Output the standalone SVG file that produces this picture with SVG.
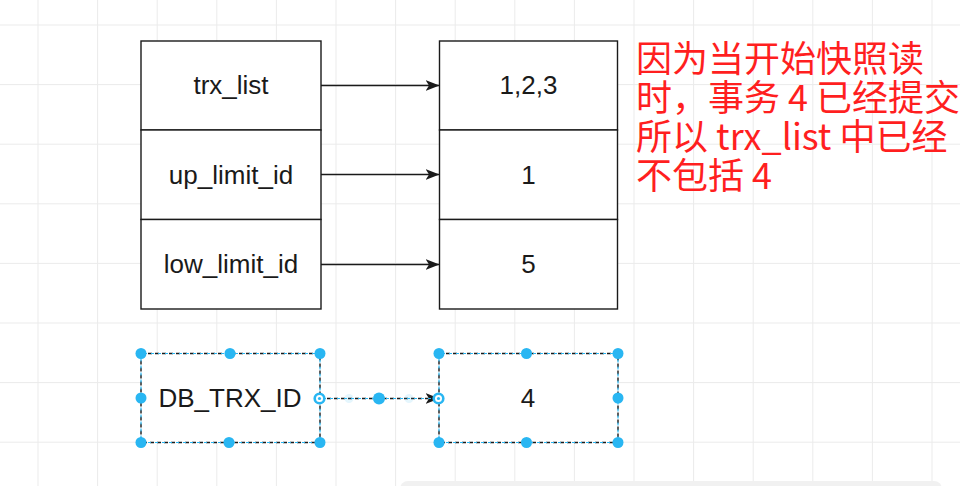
<svg xmlns="http://www.w3.org/2000/svg" width="960" height="486" viewBox="0 0 960 486">
<style>
.grid line{stroke:#ebebeb;stroke-width:1}
.box{fill:#fff;stroke:#1a1a1a;stroke-width:1.4}
.lbl{font-family:"Liberation Sans",Arial,sans-serif;font-size:26px;fill:#1a1a1a;text-anchor:middle}
.edge{stroke:#1a1a1a;stroke-width:1.4;fill:none}
.sel{fill:#fff;stroke:#1a1a1a;stroke-width:1.4;stroke-dasharray:4 3}
.selo{fill:none;stroke:#29b6f2;stroke-width:1.2;stroke-dasharray:3 4;stroke-dashoffset:-3}
.h{fill:#29b6f2}
.ring{fill:#fff;stroke:#29b6f2;stroke-width:2.6}
.note{font-family:"Noto Sans CJK SC","Noto Sans",sans-serif;font-size:36px;fill:#ff1f1f}
</style>
<defs>
<marker id="arr" viewBox="0 0 14 11" refX="13.5" refY="5.5" markerWidth="14" markerHeight="11" markerUnits="userSpaceOnUse" orient="auto">
<path d="M0,0 L14,5.5 L0,11 L3.5,5.5 Z" fill="#1a1a1a"/>
</marker>
</defs>
<rect width="960" height="486" fill="#fff"/>
<g class="grid">
<line x1="38" y1="0" x2="38" y2="486"/><line x1="97.6" y1="0" x2="97.6" y2="486"/><line x1="157.2" y1="0" x2="157.2" y2="486"/><line x1="216.8" y1="0" x2="216.8" y2="486"/><line x1="276.4" y1="0" x2="276.4" y2="486"/><line x1="336" y1="0" x2="336" y2="486"/><line x1="395.6" y1="0" x2="395.6" y2="486"/><line x1="455.2" y1="0" x2="455.2" y2="486"/><line x1="514.8" y1="0" x2="514.8" y2="486"/><line x1="574.4" y1="0" x2="574.4" y2="486"/><line x1="634" y1="0" x2="634" y2="486"/><line x1="693.6" y1="0" x2="693.6" y2="486"/><line x1="753.2" y1="0" x2="753.2" y2="486"/><line x1="812.8" y1="0" x2="812.8" y2="486"/><line x1="872.4" y1="0" x2="872.4" y2="486"/><line x1="932" y1="0" x2="932" y2="486"/>
<line x1="0" y1="25" x2="960" y2="25"/><line x1="0" y1="84.6" x2="960" y2="84.6"/><line x1="0" y1="144.2" x2="960" y2="144.2"/><line x1="0" y1="203.8" x2="960" y2="203.8"/><line x1="0" y1="263.4" x2="960" y2="263.4"/><line x1="0" y1="323" x2="960" y2="323"/><line x1="0" y1="382.6" x2="960" y2="382.6"/><line x1="0" y1="442.2" x2="960" y2="442.2"/>
</g>
<rect x="400" y="481" width="542" height="20" rx="8" fill="#f1f1f1"/>

<g id="n-trx_list"><rect class="box" x="141" y="41" width="180" height="89"/><text class="lbl" x="231" y="94">trx_list</text></g>
<g id="n-up_limit_id"><rect class="box" x="141" y="130" width="180" height="89.5"/><text class="lbl" x="231" y="183.5">up_limit_id</text></g>
<g id="n-low_limit_id"><rect class="box" x="141" y="219.5" width="180" height="89.5"/><text class="lbl" x="231" y="273">low_limit_id</text></g>
<g id="n-v123"><rect class="box" x="439.5" y="41" width="178" height="89"/><text class="lbl" x="528.5" y="94">1,2,3</text></g>
<g id="n-v1"><rect class="box" x="439.5" y="130" width="178" height="89.5"/><text class="lbl" x="528.5" y="183.5">1</text></g>
<g id="n-v5"><rect class="box" x="439.5" y="219.5" width="178" height="89.5"/><text class="lbl" x="528.5" y="273">5</text></g>

<g id="n-db_trx_id"><rect class="sel" x="141" y="353.5" width="179" height="89"/><rect class="selo" x="141" y="353.5" width="179" height="89"/><text class="lbl" x="230" y="407">DB_TRX_ID</text></g>
<g id="n-v4"><rect class="sel" x="439" y="353.5" width="179" height="89"/><rect class="selo" x="439" y="353.5" width="179" height="89"/><text class="lbl" x="528" y="407">4</text></g>

<g id="connectors">
<line class="edge" x1="321" y1="85.5" x2="439" y2="85.5" marker-end="url(#arr)"/>
<line class="edge" x1="321" y1="174.5" x2="439" y2="174.5" marker-end="url(#arr)"/>
<line class="edge" x1="321" y1="264.5" x2="439" y2="264.5" marker-end="url(#arr)"/>
<line class="edge" x1="320" y1="398.5" x2="439" y2="398.5" stroke-dasharray="4 3" marker-end="url(#arr)"/>
<line x1="320" y1="398.5" x2="439" y2="398.5" stroke="#29b6f2" stroke-width="1.2" stroke-dasharray="3 4" stroke-dashoffset="-3"/>
</g>

<g id="selection-handles">
<circle class="h" cx="141" cy="353.5" r="5.5"/><circle class="h" cx="230" cy="353.5" r="5.5"/><circle class="h" cx="320" cy="353.5" r="5.5"/>
<circle class="h" cx="141" cy="398" r="5.5"/>
<circle class="h" cx="141" cy="442.5" r="5.5"/><circle class="h" cx="229" cy="442.5" r="5.5"/><circle class="h" cx="320" cy="442.5" r="5.5"/>
<circle class="h" cx="439" cy="353.5" r="5.5"/><circle class="h" cx="526.5" cy="353.5" r="5.5"/><circle class="h" cx="618" cy="353.5" r="5.5"/>
<circle class="h" cx="618" cy="398" r="5.5"/>
<circle class="h" cx="439" cy="442.5" r="5.5"/><circle class="h" cx="526.5" cy="442.5" r="5.5"/><circle class="h" cx="618" cy="442.5" r="5.5"/>
<circle cx="349" cy="398.5" r="4.5" fill="#29b6f2" opacity="0.12"/><circle cx="409" cy="398.5" r="4.5" fill="#29b6f2" opacity="0.12"/>
<circle class="h" cx="379" cy="398.5" r="6"/>
<circle class="ring" cx="319.5" cy="398.5" r="4.8"/><circle cx="319.5" cy="398.5" r="1.6" fill="#29b6f2"/>
<circle class="ring" cx="438.5" cy="398.5" r="4.8"/><circle cx="438.5" cy="398.5" r="1.6" fill="#29b6f2"/>
</g>

<g id="n-note">
<text class="note" xml:space="preserve"><tspan x="636" y="72">因为当开始快照读</tspan><tspan x="636" y="111">时，事务 4 已经提交</tspan><tspan x="636" y="150">所以 trx_list 中已经</tspan><tspan x="636" y="189">不包括 4</tspan></text>
</g>
</svg>
